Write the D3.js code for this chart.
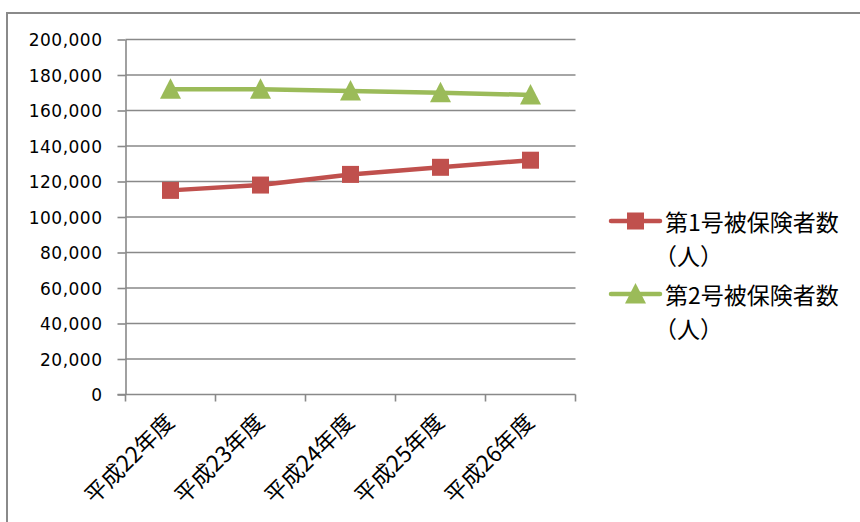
<!DOCTYPE html>
<html>
<head>
<meta charset="utf-8">
<script src="https://cdn.jsdelivr.net/npm/d3@7"></script>
<style>
  html, body { margin: 0; padding: 0; background: #fff; }
  svg { display: block; }
</style>
</head>
<body>
<svg id="chart" width="860" height="522"></svg>
<script>
// Fiscal years (Heisei era)
const categories = ["平成22年度", "平成23年度", "平成24年度", "平成25年度", "平成26年度"];
// Insured persons by category
const insured1 = [115000, 118000, 124000, 128000, 132000];
const insured2 = [172000, 172000, 171000, 170000, 168800];
const seriesNames = [["第1号被保険者数", "（人）"], ["第2号被保険者数", "（人）"]];
const yTicks = [0, 20000, 40000, 60000, 80000, 100000, 120000, 140000, 160000, 180000, 200000];

const series = [
  { name: seriesNames[0], values: insured1, color: "#C0504D", marker: "square" },
  { name: seriesNames[1], values: insured2, color: "#9BBB59", marker: "triangle" }
];

const svg = d3.select("#chart");
const gridColor = "#898989";
const jpFont = "'Noto Sans CJK JP', 'Noto Sans', sans-serif";

// outer chart frame (runs past the right and bottom edges)
svg.append("rect")
  .attr("x", 7).attr("y", 13)
  .attr("width", 900).attr("height", 560)
  .attr("fill", "none").attr("stroke", "#8a8a8a").attr("stroke-width", 2);

const plot = { left: 125.5, right: 575.5, top: 39.5, bottom: 394.5 };

const x = d3.scaleBand().domain(categories).range([plot.left, plot.right]).paddingInner(0).paddingOuter(0);
const y = d3.scaleLinear().domain([0, 200000]).range([plot.bottom, plot.top]);
const cx = d => x(d) + x.bandwidth() / 2;

// horizontal gridlines
svg.append("g").selectAll("line")
  .data(yTicks.filter(t => t > 0))
  .join("line")
  .attr("x1", plot.left).attr("x2", plot.right)
  .attr("y1", d => y(d)).attr("y2", d => y(d))
  .attr("stroke", gridColor).attr("stroke-width", 1.6);

// y axis
const yAxis = svg.append("g")
  .attr("transform", `translate(${plot.left},0)`)
  .call(d3.axisLeft(y).tickValues(yTicks).tickSize(8).tickSizeOuter(0).tickPadding(15).tickFormat(d3.format(",")));
yAxis.select(".domain").attr("stroke", gridColor).attr("stroke-width", 1.6);
yAxis.selectAll(".tick line").attr("stroke", gridColor).attr("stroke-width", 1.6);
yAxis.selectAll(".tick text")
  .attr("fill", "#000")
  .style("font-family", "'DejaVu Sans', sans-serif")
  .style("font-size", "17px")
  .style("letter-spacing", "0.5px")
  .attr("dy", "0.36em");

// x axis: baseline plus tick marks at category boundaries
const xEdges = categories.map(c => x(c)).concat([x.range()[1]]);
const xAxis = svg.append("g");
xAxis.append("line")
  .attr("x1", plot.left - 8).attr("x2", plot.right)
  .attr("y1", plot.bottom).attr("y2", plot.bottom)
  .attr("stroke", gridColor).attr("stroke-width", 1.6);
xAxis.selectAll("line.tick")
  .data(xEdges)
  .join("line")
  .attr("class", "tick")
  .attr("x1", d => d).attr("x2", d => d)
  .attr("y1", plot.bottom).attr("y2", plot.bottom + 7)
  .attr("stroke", gridColor).attr("stroke-width", 1.6);

// rotated category labels
xAxis.selectAll("text")
  .data(categories)
  .join("text")
  .attr("transform", d => `translate(${cx(d) - 2},${plot.bottom + 22}) rotate(-45)`)
  .attr("text-anchor", "end")
  .attr("dominant-baseline", "central")
  .style("font-family", jpFont)
  .style("font-size", "22.5px")
  .attr("fill", "#000")
  .text(d => d);

// series lines and markers
const line = d3.line().x((d, i) => cx(categories[i])).y(d => y(d));

function drawMarker(g, kind, color) {
  if (kind === "square") {
    g.append("rect").attr("x", -8.5).attr("y", -8.5).attr("width", 17).attr("height", 17).attr("fill", color);
  } else {
    g.append("path").attr("d", "M0,-11 L10.5,9.5 L-10.5,9.5 Z").attr("fill", color);
  }
}

series.forEach(s => {
  svg.append("path")
    .datum(s.values)
    .attr("d", line)
    .attr("fill", "none")
    .attr("stroke", s.color)
    .attr("stroke-width", 4.5)
    .attr("stroke-linejoin", "round")
    .attr("stroke-linecap", "round");
  s.values.forEach((v, i) => {
    const g = svg.append("g").attr("transform", `translate(${cx(categories[i])},${y(v)})`);
    drawMarker(g, s.marker, s.color);
  });
});

// legend
const legendTops = [221, 294];
series.forEach((s, i) => {
  const ly = legendTops[i];
  const g = svg.append("g");
  g.append("line")
    .attr("x1", 611).attr("x2", 660)
    .attr("y1", ly).attr("y2", ly)
    .attr("stroke", s.color).attr("stroke-width", 4.5).attr("stroke-linecap", "round");
  const m = g.append("g").attr("transform", `translate(635.5,${ly})`);
  drawMarker(m, s.marker, s.color);
  const t = g.append("text")
    .attr("x", 665).attr("y", ly)
    .attr("dominant-baseline", "central")
    .style("font-family", jpFont)
    .style("font-size", "23px")
    .attr("fill", "#000");
  t.append("tspan").attr("x", 665).attr("dy", 0).text(s.name[0]);
  t.append("tspan").attr("x", 654).attr("dy", 34).text(s.name[1]);
});
</script>
</body>
</html>
